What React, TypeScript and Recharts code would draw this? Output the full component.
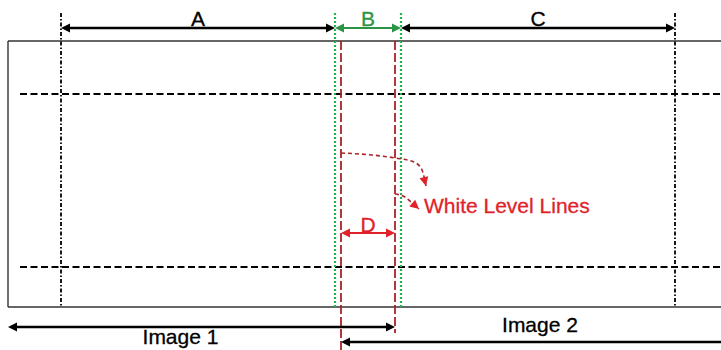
import { ComposedChart, XAxis, YAxis, ReferenceLine, Scatter, Line } from "recharts";

const W = 721;
const H = 350;

const BLACK = "#000000";
const FRAME = "#333333";
const GREEN = "#22b24c";
const GREEN_DARK = "#2e9445";
const RED = "#e0232b";
const RED_DARK = "#a8232b";

// frame of the image strip
const frameLeft = 8;
const frameTop = 41;
const frameBottom = 307;

// horizontal dashed rows and vertical guides
const levelY = [94, 267];
const levelStartX = 20;
const guideTop = 13;
const guideX = [61, 675];
const overlapX = [335, 401];
const whiteLineX = [341, 395];
const whiteLineBottom = [350, 333];

// dimension arrows
const spans = [
  { label: "A", from: 61, to: 335, y: 28, textY: 26, color: BLACK, heads: [true, true] },
  { label: "B", from: 335, to: 401, y: 28, textY: 26, color: GREEN_DARK, heads: [true, true] },
  { label: "C", from: 401, to: 675, y: 28, textY: 26, color: BLACK, heads: [true, true] },
  { label: "D", from: 341, to: 395, y: 233, textY: 232, color: RED, heads: [true, true] },
  { label: "Image 1", from: 8, to: 395, y: 327, textY: 344, color: BLACK, heads: [true, true] },
  { label: "Image 2", from: 341, to: 721, y: 342, textY: 332, color: BLACK, heads: [true, false] },
];

// curved pointers to the white level lines
const pointer1 = [
  { x: 341, y: 153 },
  { x: 372, y: 155 },
  { x: 395, y: 158 },
  { x: 414, y: 162 },
  { x: 422, y: 170 },
  { x: 426, y: 186 },
];
const pointer2 = [
  { x: 395, y: 194 },
  { x: 405, y: 197 },
  { x: 411, y: 202 },
  { x: 419, y: 209 },
];
const note = { text: "White Level Lines", x: 424, y: 213 };

const headsData: { x: number; y: number; angle: number; color: string }[] = [];
spans.forEach((s) => {
  if (s.heads[0]) headsData.push({ x: s.from, y: s.y, angle: Math.PI, color: s.color });
  if (s.heads[1]) headsData.push({ x: s.to, y: s.y, angle: 0, color: s.color });
});
[pointer1, pointer2].forEach((p) => {
  const a = p[p.length - 2];
  const b = p[p.length - 1];
  headsData.push({ x: b.x, y: b.y, angle: Math.atan2(b.y - a.y, b.x - a.x), color: RED });
});

const labelData = [
  ...spans.map((s) => ({
    x: (s.from + Math.min(s.to, W)) / 2 + (s.label === "Image 1" ? -21 : s.label === "Image 2" ? 9 : 0),
    y: s.textY,
    text: s.label,
    color: s.color,
    anchor: "middle",
  })),
  { x: note.x, y: note.y, text: note.text, color: RED, anchor: "start" },
];

const Head = (props: any) => {
  const { cx, cy, payload } = props;
  const len = 9;
  const half = 4.5;
  const a = payload.angle;
  const bx = cx - len * Math.cos(a);
  const by = cy - len * Math.sin(a);
  const px = -Math.sin(a) * half;
  const py = Math.cos(a) * half;
  return (
    <polygon
      points={`${cx},${cy} ${bx + px},${by + py} ${bx - px},${by - py}`}
      fill={payload.color}
    />
  );
};

const Label = (props: any) => {
  const { cx, cy, payload } = props;
  return (
    <text
      x={cx}
      y={cy}
      fill={payload.color}
      stroke={payload.color}
      strokeWidth={0.3}
      textAnchor={payload.anchor}
      fontSize={21}
      fontFamily="'Liberation Sans', Arial, sans-serif"
    >
      {payload.text}
    </text>
  );
};

export default function App() {
  return (
    <div style={{ position: "absolute", left: 0, top: 0, width: W, height: H, background: "#fff" }}>
      <ComposedChart width={W} height={H} margin={{ top: 0, right: 0, bottom: 0, left: 0 }}>
        <XAxis type="number" dataKey="x" domain={[0, W]} hide allowDataOverflow />
        <YAxis type="number" dataKey="y" domain={[0, H]} reversed hide allowDataOverflow />

        {/* frame */}
        <ReferenceLine segment={[{ x: frameLeft, y: frameTop }, { x: W, y: frameTop }]} stroke={FRAME} strokeWidth={1.4} ifOverflow="visible" />
        <ReferenceLine segment={[{ x: frameLeft, y: frameBottom }, { x: W, y: frameBottom }]} stroke={FRAME} strokeWidth={1.4} ifOverflow="visible" />
        <ReferenceLine segment={[{ x: frameLeft, y: frameTop }, { x: frameLeft, y: frameBottom }]} stroke={FRAME} strokeWidth={1.4} ifOverflow="visible" />

        {levelY.map((y) => (
          <ReferenceLine key={`l${y}`} segment={[{ x: levelStartX, y }, { x: W, y }]} stroke={BLACK} strokeWidth={2.2} strokeDasharray="7 3.5" ifOverflow="visible" />
        ))}
        {guideX.map((x) => (
          <ReferenceLine key={`g${x}`} segment={[{ x, y: guideTop }, { x, y: frameBottom }]} stroke={BLACK} strokeWidth={1.8} strokeDasharray="4 2 1.5 2" ifOverflow="visible" />
        ))}
        {overlapX.map((x) => (
          <ReferenceLine key={`o${x}`} segment={[{ x, y: guideTop }, { x, y: frameBottom }]} stroke={GREEN} strokeWidth={2.2} strokeDasharray="2 2" ifOverflow="visible" />
        ))}
        {whiteLineX.map((x, i) => (
          <ReferenceLine key={`w${x}`} segment={[{ x, y: frameTop }, { x, y: whiteLineBottom[i] }]} stroke={RED_DARK} strokeWidth={1.8} strokeDasharray="9 3" ifOverflow="visible" />
        ))}

        {spans.map((s) => (
          <ReferenceLine
            key={`s${s.label}`}
            segment={[{ x: s.from + (s.heads[0] ? 6 : 0), y: s.y }, { x: s.to - (s.heads[1] ? 6 : 0), y: s.y }]}
            stroke={s.color}
            strokeWidth={s.color === BLACK ? 2.6 : 1.8}
            ifOverflow="visible"
          />
        ))}

        <Line data={pointer1} dataKey="y" type="monotone" stroke={RED_DARK} strokeWidth={1.6} strokeDasharray="4 3" dot={false} activeDot={false} isAnimationActive={false} />
        <Line data={pointer2} dataKey="y" type="monotone" stroke={RED_DARK} strokeWidth={1.6} strokeDasharray="4 3" dot={false} activeDot={false} isAnimationActive={false} />

        <Scatter data={headsData} dataKey="y" shape={Head} isAnimationActive={false} />
        <Scatter data={labelData} dataKey="y" shape={Label} isAnimationActive={false} />
      </ComposedChart>
    </div>
  );
}
